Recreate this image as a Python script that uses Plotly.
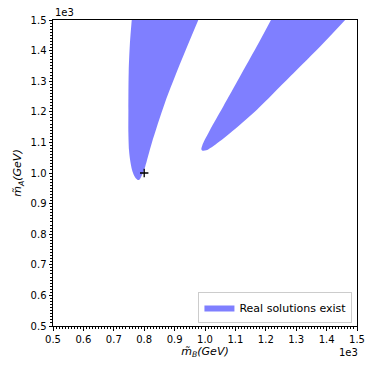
import plotly.graph_objects as go

# boundary of the left region (GeV): left edge top->tip, then right edge tip->top
left_mb = [759, 753, 749, 748, 748, 750, 754, 760, 767, 774, 779, 785, 792, 803, 825, 868, 923, 978]
left_ma = [1500, 1424, 1330, 1206, 1130, 1075, 1040, 1010, 991, 981, 977, 979, 992, 1020, 1098, 1229, 1369, 1500]

# boundary of the right region (GeV): upper-left edge top->tip, lower-right edge tip->top
right_mb = [1217, 1170, 1115, 1060, 1016, 1000, 991, 988, 992, 1004, 1030, 1082, 1170, 1280, 1389, 1461]
right_ma = [1500, 1413, 1315, 1217, 1140, 1110, 1090, 1078, 1073, 1074, 1090, 1130, 1206, 1315, 1424, 1500]

point_mb = [800]
point_ma = [1000]

fill = "rgba(0,0,255,0.5)"
font = dict(family="DejaVu Sans", size=10, color="black")
title_font = dict(family="DejaVu Sans", size=11, color="black")

fig = go.Figure()
fig.add_trace(go.Scatter(x=left_mb, y=left_ma, fill="toself", fillcolor=fill,
                         mode="lines", line=dict(width=0, color=fill, shape="spline", smoothing=0.8),
                         name="Real solutions exist", legendgroup="r"))
fig.add_trace(go.Scatter(x=right_mb, y=right_ma, fill="toself", fillcolor=fill,
                         mode="lines", line=dict(width=0, color=fill, shape="spline", smoothing=0.8),
                         name="Real solutions exist", legendgroup="r", showlegend=False))
fig.add_trace(go.Scatter(x=point_mb, y=point_ma, mode="markers", showlegend=False,
                         marker=dict(symbol="cross-thin", size=6,
                                     line=dict(width=1.3, color="black"))))

ticks = [500, 600, 700, 800, 900, 1000, 1100, 1200, 1300, 1400, 1500]
labels = [f"{t / 1000:.1f}" for t in ticks]

axis = dict(range=[500, 1500], tickvals=ticks, ticktext=labels, ticks="outside",
            ticklen=3.5, tickwidth=0.8, tickcolor="black", showline=True, linecolor="black",
            linewidth=1, mirror=True, showgrid=False, zeroline=False, tickfont=font,
            automargin=False,
            minor=dict(dtick=10, ticks="outside", ticklen=2, tickwidth=0.6, tickcolor="black"))

# page body has an 8px margin, so the figure is shrunk by that much
fig.update_layout(
    width=366, height=362, margin=dict(l=45, r=17, t=12, b=44),
    plot_bgcolor="white", paper_bgcolor="white", font=font,
    xaxis=dict(axis, title=dict(text="<i>m̃</i><sub><i>B</i></sub><i>(GeV)</i>", font=title_font, standoff=3)),
    yaxis=dict(axis, title=dict(text="<i>m̃</i><sub><i>A</i></sub><i>(GeV)</i>", font=title_font, standoff=6)),
    legend=dict(x=0.985, y=0.01, xanchor="right", yanchor="bottom", bordercolor="#cccccc",
                borderwidth=1, bgcolor="rgba(255,255,255,0.8)", itemwidth=30,
                font=dict(family="DejaVu Sans", size=11, color="black")),
    annotations=[
        dict(text="1e3", xref="paper", yref="paper", x=0, y=1, xanchor="left", yanchor="bottom",
             showarrow=False, font=font),
        dict(text="1e3", xref="paper", yref="paper", x=1, y=0, xanchor="right", yanchor="top",
             showarrow=False, font=font, yshift=-19, xshift=3),
    ],
)

fig.write_html("out.html")
